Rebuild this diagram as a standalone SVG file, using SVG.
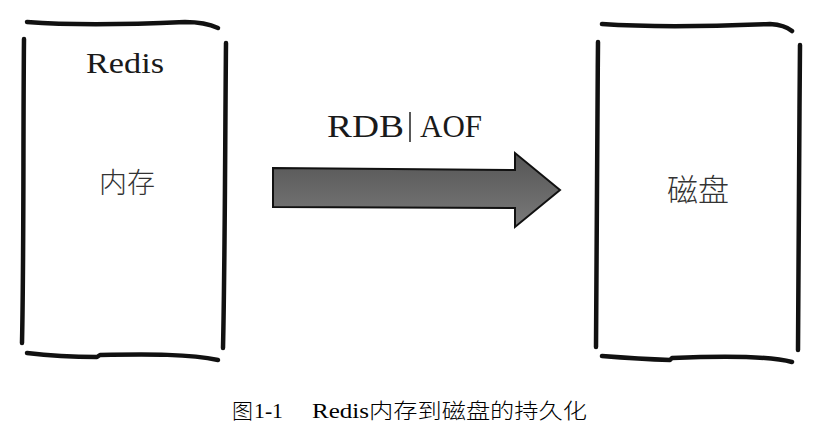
<svg xmlns="http://www.w3.org/2000/svg" width="825" height="435" viewBox="0 0 825 435">
<defs>
<style>
.sk{fill:none;stroke:#111;stroke-width:4.5;stroke-linecap:round;stroke-linejoin:round}
.lat{font-family:"Liberation Serif","DejaVu Serif",serif;fill:#1a1a1a}
.cjk{font-family:"Noto Sans CJK SC","Noto Sans CJK JP",sans-serif;font-weight:300;fill:#333}
.cap{font-family:"Liberation Serif","Noto Sans CJK SC",serif;fill:#000;font-size:21px}
.capc{font-family:"Noto Sans CJK SC","Noto Sans CJK JP",serif;font-weight:300;fill:#000;font-size:21px}
</style>
<linearGradient id="ag" x1="0" y1="0" x2="0" y2="1">
<stop offset="0" stop-color="#555"/>
<stop offset="1" stop-color="#7a7a7a"/>
</linearGradient>
</defs>
<rect width="825" height="435" fill="#fff"/>
<g id="memory">
<path class="sk" d="M27,22 C80,26 140,24 185,22 Q205,22 218,28"/>
<path class="sk" d="M24,39 C23,140 24,250 22,343"/>
<path class="sk" d="M226,43 C225,150 225,260 223,348"/>
<path class="sk" d="M27,353 Q60,357 97,357 L100,355 C150,354 190,354 218,360"/>
<text class="lat" x="125" y="73" font-size="30" text-anchor="middle" textLength="78" lengthAdjust="spacingAndGlyphs">Redis</text>
<text class="cjk" x="127" y="193" font-size="28" text-anchor="middle">内存</text>
</g>
<g id="disk">
<path class="sk" d="M602,24 C660,28 720,26 770,24 Q785,25 792,31"/>
<path class="sk" d="M598,42 C597,150 597,260 596,347"/>
<path class="sk" d="M800,45 C799,150 799,260 798,350"/>
<path class="sk" d="M602,356 Q640,359 670,360 L672,358 C720,356 770,356 792,362"/>
<text class="cjk" x="698" y="201" font-size="31" text-anchor="middle">磁盘</text>
</g>
<g id="connectors">
<path d="M273,168 L515,170 L515,153 L560,190 L515,227 L515,208 L273,207 Z" fill="url(#ag)" stroke="#111" stroke-width="2" stroke-linejoin="miter"/>
<text class="lat" x="327" y="137" font-size="32" textLength="77" lengthAdjust="spacingAndGlyphs">RDB</text>
<line x1="410" y1="112" x2="410" y2="142" stroke="#222" stroke-width="1.5"/>
<text class="lat" x="420" y="137" font-size="32" textLength="62" lengthAdjust="spacingAndGlyphs">AOF</text>
</g>
<g id="caption">
<text class="capc" x="232" y="418" textLength="21" lengthAdjust="spacingAndGlyphs">图</text>
<text class="cap" x="254" y="418" textLength="29" lengthAdjust="spacingAndGlyphs">1-1</text>
<text class="cap" x="312" y="418" textLength="57" lengthAdjust="spacingAndGlyphs">Redis</text>
<text class="capc" x="369" y="418" textLength="218" lengthAdjust="spacingAndGlyphs">内存到磁盘的持久化</text>
</g>
</svg>
